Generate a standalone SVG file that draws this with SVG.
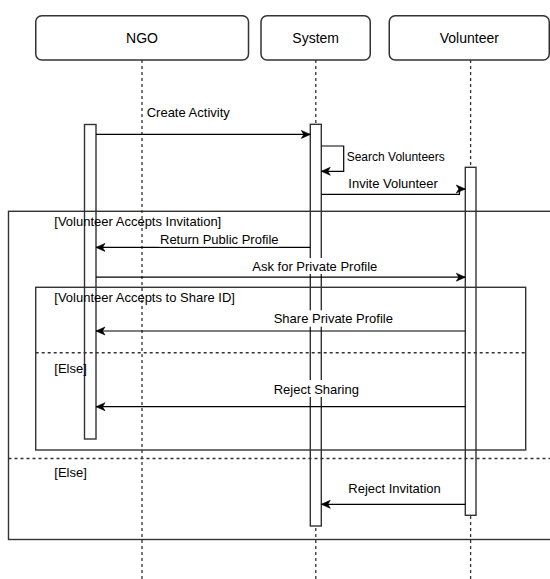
<svg xmlns="http://www.w3.org/2000/svg" width="550" height="579" viewBox="0 0 550 579">
  <style>
    text { font-family: "Liberation Sans", Arial, sans-serif; fill: #000; }
    .head { fill: #fff; stroke: #333; stroke-width: 1.5; }
    .head-label { font-size: 14px; text-anchor: middle; }
    .lifeline { stroke: #333; stroke-width: 1.3; stroke-dasharray: 3 3; fill: none; }
    .act { fill: #fff; stroke: #333; stroke-width: 1.4; }
    .frame { fill: none; stroke: #333; stroke-width: 1.4; }
    .sep { stroke: #333; stroke-width: 1.4; stroke-dasharray: 3 3; fill: none; }
    .guard { font-size: 13px; }
    .msg { fill: none; stroke: #000; stroke-width: 1.2; marker-end: url(#arrow); }
    .msg-label { font-size: 13px; }
    .lbl-bg { fill: #fff; }
  </style>
  <defs>
    <marker id="arrow" markerUnits="userSpaceOnUse" markerWidth="12" markerHeight="12" refX="9" refY="4" orient="auto" overflow="visible">
      <path d="M0,0 L9,4 L0,8 L2.5,4 Z" fill="#000" stroke="#000" stroke-width="0.6" stroke-linejoin="miter"/>
    </marker>
  </defs>
  <rect width="550" height="579" fill="#fff"/>

  <!-- participants: header, lifeline, activation bar -->
  <g id="ngo">
    <line class="lifeline" x1="142" y1="60" x2="142" y2="579"/>
    <rect class="act" x="84.5" y="124.5" width="11.5" height="314.5"/>
    <rect class="head" x="35.75" y="15.75" width="212.75" height="44.25" rx="6"/>
    <text class="head-label" x="142" y="42.5">NGO</text>
  </g>
  <g id="system">
    <line class="lifeline" x1="315.8" y1="60" x2="315.8" y2="579"/>
    <rect class="act" x="310.3" y="124.3" width="11" height="401.7"/>
    <rect class="head" x="261" y="15.75" width="109.25" height="44.25" rx="6"/>
    <text class="head-label" x="315.7" y="42.5">System</text>
  </g>
  <g id="volunteer">
    <line class="lifeline" x1="470.6" y1="60" x2="470.6" y2="579"/>
    <rect class="act" x="465.3" y="167.3" width="10.7" height="348"/>
    <rect class="head" x="389.25" y="15.75" width="160" height="44.25" rx="6"/>
    <text class="head-label" x="469.3" y="42.5">Volunteer</text>
  </g>

  <!-- combined fragments -->
  <g id="alt-invitation">
    <rect class="frame" x="8.5" y="211.3" width="560" height="328.2"/>
    <line class="sep" x1="8.5" y1="458.5" x2="550" y2="458.5"/>
    <text class="guard" x="54.3" y="226">[Volunteer Accepts Invitation]</text>
    <text class="guard" x="54.3" y="476.5">[Else]</text>
  </g>
  <g id="alt-share">
    <rect class="frame" x="35.7" y="287.3" width="490" height="162.7"/>
    <line class="sep" x1="35.7" y1="352.7" x2="525.7" y2="352.7"/>
    <text class="guard" x="54.3" y="301.7">[Volunteer Accepts to Share ID]</text>
    <text class="guard" x="54.3" y="373">[Else]</text>
  </g>

  <!-- messages -->
  <g id="connectors">
    <path class="msg" d="M96,134.4 H310.3"/>
    <path class="msg" d="M321.3,146 H343.7 V171.3 H321.3"/>
    <path class="msg" d="M321.3,194.4 H459.5 V189 H465.3"/>
    <path class="msg" d="M310.3,247.4 H96"/>
    <path class="msg" d="M96,277.2 H465.3"/>
    <path class="msg" d="M465.3,331 H96"/>
    <path class="msg" d="M465.3,406.7 H96"/>
    <path class="msg" d="M465.3,504.3 H321.3"/>

    <rect class="lbl-bg" x="145.5" y="104" width="86" height="16"/>
    <text class="msg-label" x="146.7" y="116.5">Create Activity</text>
    <text class="msg-label" x="346.7" y="160.5" style="font-size:12px">Search Volunteers</text>
    <text class="msg-label" x="348.3" y="188">Invite Volunteer</text>
    <rect class="lbl-bg" x="159" y="231.5" width="120" height="15"/>
    <text class="msg-label" x="160" y="243.8">Return Public Profile</text>
    <rect class="lbl-bg" x="251" y="258" width="127" height="16"/>
    <text class="msg-label" x="252.3" y="270.5">Ask for Private Profile</text>
    <rect class="lbl-bg" x="272.5" y="310.3" width="121" height="16.4"/>
    <text class="msg-label" x="273.7" y="322.7">Share Private Profile</text>
    <rect class="lbl-bg" x="272.5" y="380" width="87" height="17"/>
    <text class="msg-label" x="273.7" y="394.3">Reject Sharing</text>
    <rect class="lbl-bg" x="347" y="479" width="95" height="17"/>
    <text class="msg-label" x="348.3" y="493.3">Reject Invitation</text>
  </g>
</svg>
